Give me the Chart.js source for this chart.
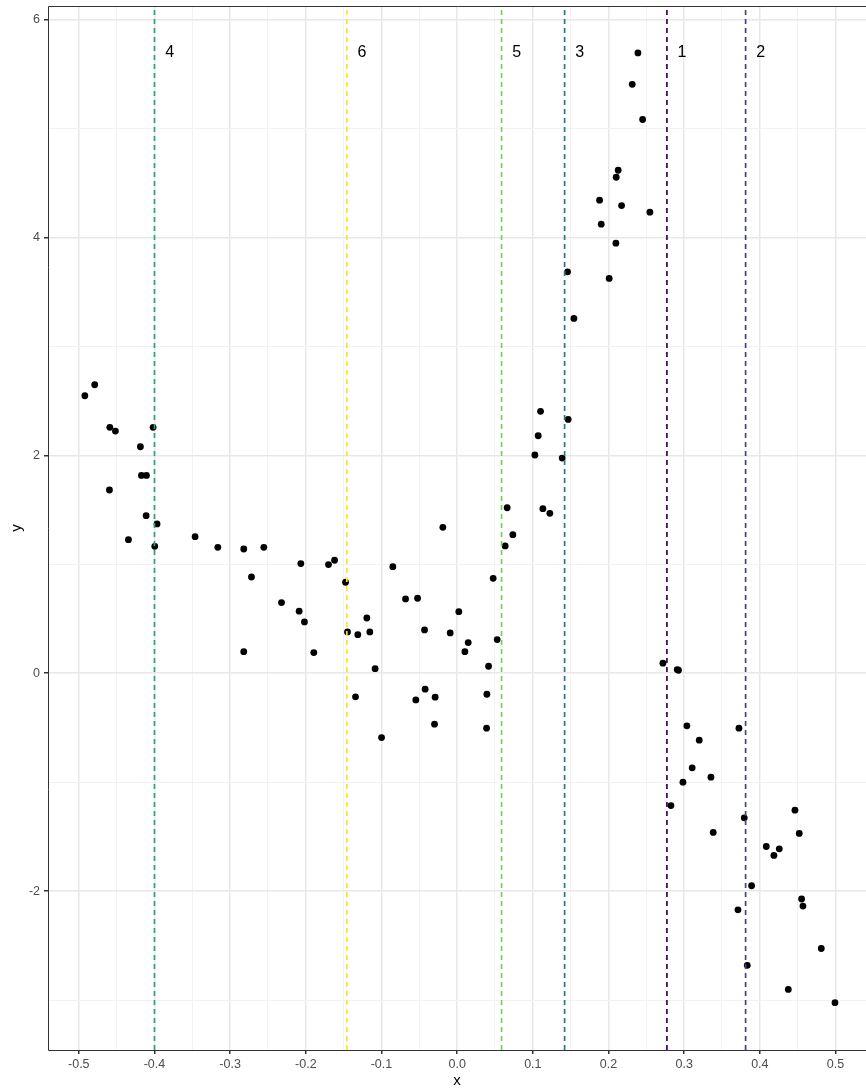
<!DOCTYPE html>
<html>
<head>
<meta charset="utf-8">
<script src="https://cdn.jsdelivr.net/npm/chart.js@4.4.1/dist/chart.umd.min.js"></script>
<style>
  html, body { margin: 0; padding: 0; background: #ffffff; }
  #wrap { width: 866px; height: 1090px; position: relative; }
</style>
</head>
<body>
<div id="wrap"><canvas id="chart" width="866" height="1090"></canvas></div>
<script>
// Observations
const xValues = [
  -0.492, -0.479, -0.459, -0.4516, -0.4018, -0.4186, -0.4172, -0.4106, -0.4595, -0.411,
  -0.3966, -0.4344, -0.3996, -0.3463, -0.3163, -0.282, -0.2555,
  -0.2718, -0.2066, -0.170, -0.162, -0.1475, -0.085, -0.0189, 0.0736, 0.0635, 0.0476,
  -0.2321, -0.2088, -0.2018, -0.282, -0.1894, -0.1449, -0.1313, -0.1194, -0.1154, -0.1084,
  -0.0682, -0.0523, -0.0431, 0.0022, -0.0092, 0.0146, 0.0102, 0.0529, 0.0415,
  -0.1343, -0.0423, -0.0546, -0.0291, 0.0393, -0.0299, 0.0389, -0.0999,
  0.1102, 0.1467, 0.1071, 0.1027, 0.1388, 0.0661, 0.1133, 0.1225,
  0.2389, 0.2314, 0.2451, 0.2128, 0.2102, 0.1882, 0.2173, 0.2547, 0.1904, 0.2098, 0.1459, 0.2009, 0.1543,
  0.2719, 0.2908, 0.2925, 0.3036, 0.3199, 0.3724, 0.3106, 0.3354, 0.2984, 0.2825, 0.3794, 0.3384,
  0.4464, 0.4521, 0.4085, 0.4257, 0.4186, 0.3891, 0.4552, 0.4570, 0.3711, 0.4812, 0.3834, 0.4376, 0.4993
];
const yValues = [
  2.547, 2.648, 2.257, 2.223, 2.257, 2.079, 1.816, 1.816, 1.682, 1.446,
  1.370, 1.226, 1.165, 1.253, 1.156, 1.140, 1.156,
  0.883, 1.006, 0.997, 1.037, 0.835, 0.978, 1.339, 1.272, 1.168, 0.871,
  0.648, 0.569, 0.471, 0.198, 0.189, 0.379, 0.354, 0.507, 0.379, 0.042,
  0.682, 0.688, 0.397, 0.565, 0.370, 0.281, 0.198, 0.309, 0.064,
  -0.217, -0.147, -0.245, -0.220, -0.193, -0.468, -0.505, -0.591,
  2.404, 2.330, 2.180, 2.003, 1.975, 1.519, 1.510, 1.468,
  5.694, 5.406, 5.083, 4.617, 4.553, 4.342, 4.293, 4.232, 4.122, 3.948, 3.685, 3.624, 3.257,
  0.092, 0.033, 0.027, -0.483, -0.615, -0.505, -0.869, -0.954, -1.000, -1.215, -1.328, -1.462,
  -1.257, -1.471, -1.591, -1.612, -1.673, -1.951, -2.073, -2.138, -2.172, -2.527, -2.682, -2.903, -3.025
];

// Cut points with their cluster labels
const cutX = [-0.4, -0.1458, 0.0587, 0.142, 0.2772, 0.3812];
const cutLabels = ["4", "6", "5", "3", "1", "2"];
const cutColors = ["#22A884", "#FDE725", "#7AD151", "#2A788E", "#440154", "#414487"];
const labelOffset = 0.02;
const labelY = 5.694;

// Axis ranges and ticks
const xLimits = [-0.5407, 0.5403];
const yLimits = [-3.459, 6.125];
const xTickValues = [-0.5, -0.4, -0.3, -0.2, -0.1, 0.0, 0.1, 0.2, 0.3, 0.4, 0.5];
const xTickLabels = ["-0.5", "-0.4", "-0.3", "-0.2", "-0.1", "0.0", "0.1", "0.2", "0.3", "0.4", "0.5"];
const xMinorValues = [-0.45, -0.35, -0.25, -0.15, -0.05, 0.05, 0.15, 0.25, 0.35, 0.45];
const yTickValues = [-2, 0, 2, 4, 6];
const yTickLabels = ["-2", "0", "2", "4", "6"];
const yMinorValues = [-3, -1, 1, 3, 5];

const FONT = '"Liberation Sans", Arial, Helvetica, sans-serif';

const points = xValues.map((x, i) => ({ x: x, y: yValues[i] }));

const cutDatasets = cutX.map((x, i) => ({
  type: 'line',
  label: 'cut ' + cutLabels[i],
  data: [{ x: x, y: yLimits[0] }, { x: x, y: yLimits[1] }],
  borderColor: cutColors[i],
  borderWidth: 1.7,
  borderDash: [5, 4],
  pointRadius: 0,
  showLine: true,
  fill: false,
  order: 0
}));

function buildTicks(major, minor, labels) {
  const all = major.map((v, i) => ({ value: v, label: labels[i], major: true }))
    .concat(minor.map(v => ({ value: v, label: '', major: false })));
  all.sort((a, b) => a.value - b.value);
  return all;
}

const gridOpts = {
  color: ctx => (ctx.tick && ctx.tick.major ? '#E8E8E8' : '#F2F2F2'),
  lineWidth: ctx => (ctx.tick && ctx.tick.major ? 1.5 : 1),
  tickColor: ctx => (ctx.tick && ctx.tick.major ? '#333333' : 'rgba(0,0,0,0)'),
  tickLength: 4,
  drawTicks: true
};

// Panel frame (open on the right) and cut labels
const decorations = {
  id: 'decorations',
  afterDatasetsDraw(chart) {
    const { ctx, chartArea, scales } = chart;
    ctx.save();
    ctx.fillStyle = '#000000';
    ctx.font = '16px ' + FONT;
    ctx.textAlign = 'center';
    ctx.textBaseline = 'middle';
    cutX.forEach((x, i) => {
      const px = scales.x.getPixelForValue(x + labelOffset);
      const py = scales.y.getPixelForValue(labelY);
      ctx.fillText(cutLabels[i], px, py);
    });
    ctx.strokeStyle = '#333333';
    ctx.lineWidth = 1;
    const l = Math.round(chartArea.left) + 0.5;
    const t = Math.round(chartArea.top) + 0.5;
    const r = Math.round(chartArea.right);
    const b = Math.round(chartArea.bottom) + 0.5;
    ctx.beginPath();
    ctx.moveTo(r, t); ctx.lineTo(l, t); ctx.lineTo(l, b); ctx.lineTo(r, b);
    ctx.stroke();
    ctx.restore();
  }
};

new Chart(document.getElementById('chart'), {
  type: 'scatter',
  data: {
    datasets: cutDatasets.concat([{
      label: 'y',
      data: points,
      backgroundColor: '#000000',
      borderColor: '#000000',
      borderWidth: 0,
      pointRadius: 3.4,
      pointHoverRadius: 3.4,
      order: 1
    }])
  },
  options: {
    responsive: false,
    animation: false,
    layout: { autoPadding: false, padding: { top: 6, right: 0, left: 0, bottom: 0 } },
    plugins: { legend: { display: false }, tooltip: { enabled: false } },
    scales: {
      x: {
        type: 'linear',
        min: xLimits[0],
        max: xLimits[1],
        afterBuildTicks: s => { s.ticks = buildTicks(xTickValues, xMinorValues, xTickLabels); },
        afterFit: s => { s.height = 40; s.paddingLeft = 0; s.paddingRight = 0; },
        ticks: {
          autoSkip: false,
          maxRotation: 0,
          padding: 3,
          color: '#4D4D4D',
          font: { family: FONT, size: 12.5 },
          callback: function (v, i, ticks) { return ticks[i].label; }
        },
        grid: gridOpts,
        border: { display: false },
        title: {
          display: true,
          text: 'x',
          color: '#000000',
          font: { family: FONT, size: 15 },
          padding: { top: 0, bottom: 0 }
        }
      },
      y: {
        type: 'linear',
        min: yLimits[0],
        max: yLimits[1],
        afterBuildTicks: s => { s.ticks = buildTicks(yTickValues, yMinorValues, yTickLabels); },
        afterFit: s => { s.width = 48; s.paddingTop = 0; s.paddingBottom = 0; },
        ticks: {
          autoSkip: false,
          padding: 4,
          color: '#4D4D4D',
          font: { family: FONT, size: 12.5 },
          callback: function (v, i, ticks) { return ticks[i].label; }
        },
        grid: gridOpts,
        border: { display: false },
        title: {
          display: true,
          text: 'y',
          color: '#000000',
          font: { family: FONT, size: 15 },
          padding: { top: 8, bottom: 0 }
        }
      }
    }
  },
  plugins: [decorations]
});
</script>
</body>
</html>
